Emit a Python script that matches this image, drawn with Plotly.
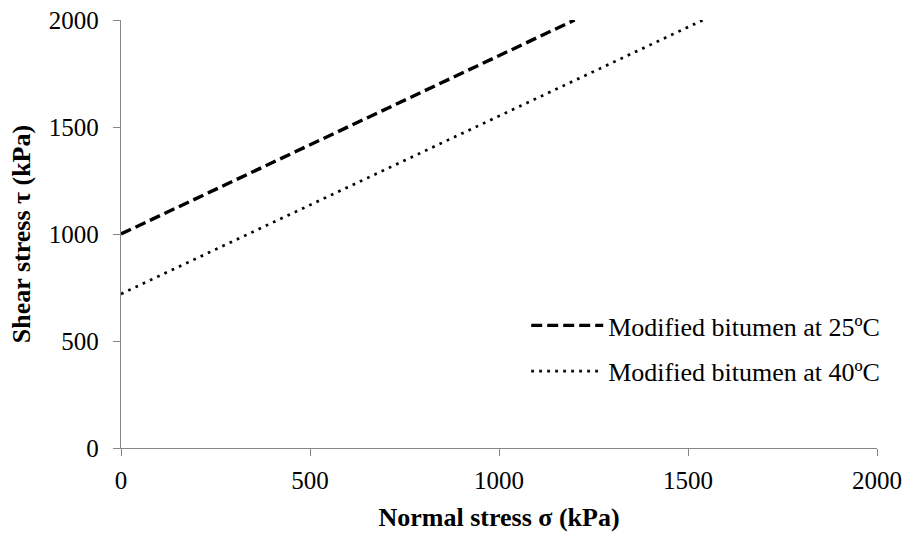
import plotly.graph_objects as go

# Data
names = ["Modified bitumen at 25ºC", "Modified bitumen at 40ºC"]
x_25 = [0, 1200]
y_25 = [1000, 2000]
x_40 = [0, 1540]
y_40 = [720, 2000]

x_ticks = [0, 500, 1000, 1500, 2000]
y_ticks = [0, 500, 1000, 1500, 2000]

FONT = "Liberation Serif"
AXIS_COLOR = "#868686"

fig = go.Figure()
fig.add_trace(go.Scatter(
    x=x_25, y=y_25, mode="lines", name=names[0], legendgroup="a",
    line=dict(color="black", width=3.4, dash="11px,5px"),
))
fig.add_trace(go.Scatter(
    x=x_40, y=y_40, mode="lines", name=names[1], legendgroup="b",
    line=dict(color="black", width=2.7, dash="2.7px,5.3px"),
))

axis_common = dict(
    showgrid=False, zeroline=False, showline=True, linecolor=AXIS_COLOR,
    linewidth=1.3, ticks="outside", ticklen=7, tickcolor=AXIS_COLOR,
    tickwidth=1.3, tickfont=dict(family=FONT, size=25, color="black"),
    automargin=False,
)

fig.update_layout(
    width=907, height=533,
    margin=dict(l=121, r=30, t=20, b=85),
    paper_bgcolor="white", plot_bgcolor="white",
    font=dict(family=FONT, color="black"),
    xaxis=dict(range=[0, 2000], tickvals=x_ticks, ticktext=[str(v) for v in x_ticks],
               ticklabelstandoff=3,
               title=dict(text="<b>Normal stress σ (kPa)</b>", font=dict(family=FONT, size=26), standoff=14),
               **axis_common),
    yaxis=dict(range=[0, 2000], tickvals=y_ticks, ticktext=[str(v) for v in y_ticks],
               ticklabelstandoff=9,
               title=dict(text="<b>Shear stress τ (kPa)</b>", font=dict(family=FONT, size=26), standoff=10),
               **axis_common),
    showlegend=True,
    legend=dict(
        x=0.536, y=0.2325, xanchor="left", yanchor="middle",
        font=dict(family=FONT, size=26, color="black"),
        bgcolor="rgba(0,0,0,0)", tracegroupgap=9,
        itemwidth=72,
    ),
)

fig.write_html("out.html")
